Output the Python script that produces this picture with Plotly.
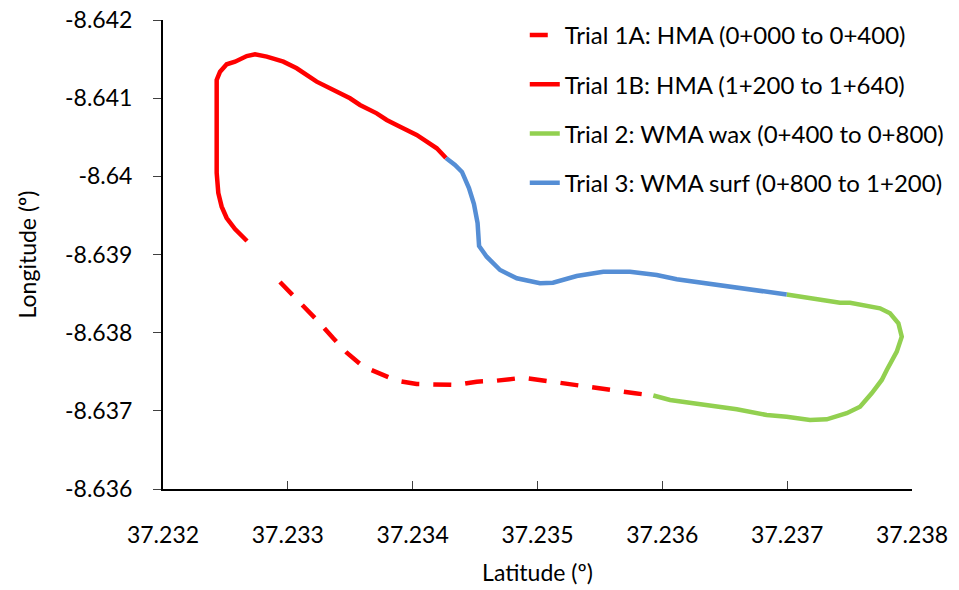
import plotly.graph_objects as go

# Route coordinates for each pavement trial section
trial_1a_lat = [37.232937, 37.233041, 37.233151, 37.233258, 37.233364, 37.233472, 37.233605,
                37.233738, 37.233872, 37.234032, 37.234193, 37.234353, 37.234513, 37.234673,
                37.234886, 37.235154, 37.235474, 37.235781, 37.235928]
trial_1a_lon = [-8.638648, -8.638482, -8.638290, -8.638120, -8.637928, -8.637744, -8.637565,
                -8.637471, -8.637386, -8.637343, -8.637331, -8.637331, -8.637373, -8.637386,
                -8.637424, -8.637360, -8.637288, -8.637224, -8.637196]

trial_1b_lat = [37.234267, 37.234193, 37.234113, 37.234032, 37.233899, 37.233792, 37.233712,
                37.233578, 37.233498, 37.233392, 37.233231, 37.233071, 37.232964, 37.232831,
                37.232737, 37.232671, 37.232577, 37.232510, 37.232457, 37.232430, 37.232430,
                37.232443, 37.232470, 37.232510, 37.232577, 37.232673]
trial_1b_lon = [-8.640235, -8.640359, -8.640443, -8.640529, -8.640635, -8.640721, -8.640806,
                -8.640913, -8.640998, -8.641083, -8.641211, -8.641382, -8.641467, -8.641531,
                -8.641561, -8.641539, -8.641467, -8.641433, -8.641339, -8.641232, -8.640043,
                -8.639787, -8.639612, -8.639467, -8.639326, -8.639173]

trial_2_lat = [37.235928, 37.236062, 37.236248, 37.236462, 37.236596, 37.236836, 37.236996,
               37.237183, 37.237317, 37.237477, 37.237584, 37.237677, 37.237758, 37.237798,
               37.237878, 37.237918, 37.237891, 37.237824, 37.237744, 37.237504, 37.237423,
               37.236996]
trial_2_lon = [-8.637196, -8.637139, -8.637096, -8.637053, -8.637020, -8.636947, -8.636925,
               -8.636883, -8.636892, -8.636969, -8.637053, -8.637224, -8.637395, -8.637522,
               -8.637757, -8.637949, -8.638120, -8.638248, -8.638312, -8.638383, -8.638383,
               -8.638488]

trial_3_lat = [37.236996, 37.236676, 37.236356, 37.236115, 37.235955, 37.235741, 37.235527,
               37.235314, 37.235124, 37.235020, 37.234834, 37.234700, 37.234593, 37.234532,
               37.234520, 37.234491, 37.234451, 37.234395, 37.234339, 37.234267]
trial_3_lon = [-8.638488, -8.638555, -8.638632, -8.638683, -8.638738, -8.638780, -8.638780,
               -8.638725, -8.638639, -8.638632, -8.638696, -8.638802, -8.638972, -8.639109,
               -8.639403, -8.639646, -8.639851, -8.640056, -8.640145, -8.640235]

x_tick_vals = [37.232, 37.233, 37.234, 37.235, 37.236, 37.237, 37.238]
x_tick_text = ["37.232", "37.233", "37.234", "37.235", "37.236", "37.237", "37.238"]
y_tick_vals = [-8.642, -8.641, -8.640, -8.639, -8.638, -8.637, -8.636]
y_tick_text = ["-8.642", "-8.641", "-8.64", "-8.639", "-8.638", "-8.637", "-8.636"]

RED = "#FF0000"
GREEN = "#92D050"
BLUE = "#558ED5"
FONT = "Lato, 'Open Sans', sans-serif"
FS = 23
LW = 4.5

fig = go.Figure()
fig.add_trace(go.Scatter(x=trial_1a_lat, y=trial_1a_lon, mode="lines",
                         name="Trial 1A: HMA (0+000 to 0+400)", legendgroup="a",
                         line=dict(color=RED, width=LW, dash="18px,14px")))
fig.add_trace(go.Scatter(x=trial_1b_lat, y=trial_1b_lon, mode="lines",
                         name="Trial 1B: HMA (1+200 to 1+640)", legendgroup="b",
                         line=dict(color=RED, width=LW)))
fig.add_trace(go.Scatter(x=trial_2_lat, y=trial_2_lon, mode="lines",
                         name="Trial 2: WMA wax (0+400 to 0+800)", legendgroup="c",
                         line=dict(color=GREEN, width=LW)))
fig.add_trace(go.Scatter(x=trial_3_lat, y=trial_3_lon, mode="lines",
                         name="Trial 3: WMA surf (0+800 to 1+200)", legendgroup="d",
                         line=dict(color=BLUE, width=LW)))

fig.update_layout(
    width=959, height=590,
    margin=dict(l=163, r=47, t=20, b=101, autoexpand=False),
    paper_bgcolor="white", plot_bgcolor="white",
    font=dict(family=FONT, size=FS, color="black"),
    legend=dict(x=0.483, y=1.015, xanchor="left", yanchor="top",
                traceorder="grouped", tracegroupgap=15,
                font=dict(family=FONT, size=24, color="black"),
                bgcolor="rgba(0,0,0,0)"),
)
fig.update_xaxes(
    range=[37.232, 37.238], tickvals=x_tick_vals, ticktext=x_tick_text,
    showgrid=False, zeroline=False, showline=True, linecolor="black", linewidth=2,
    ticks="inside", ticklen=8, tickcolor="#404040", tickwidth=1,
    ticklabelstandoff=24, automargin=False,
    title=dict(text="Latitude (º)", standoff=18, font=dict(family=FONT, size=FS)),
)
fig.update_yaxes(
    range=[-8.636, -8.642], tickvals=y_tick_vals, ticktext=y_tick_text,
    showgrid=False, zeroline=False, showline=True, linecolor="black", linewidth=2,
    ticks="outside", ticklen=8, tickcolor="#404040", tickwidth=1,
    ticklabelstandoff=16, automargin=False,
    title=dict(text="Longitude (º)", standoff=22, font=dict(family=FONT, size=FS)),
)

fig.write_html("out.html")
